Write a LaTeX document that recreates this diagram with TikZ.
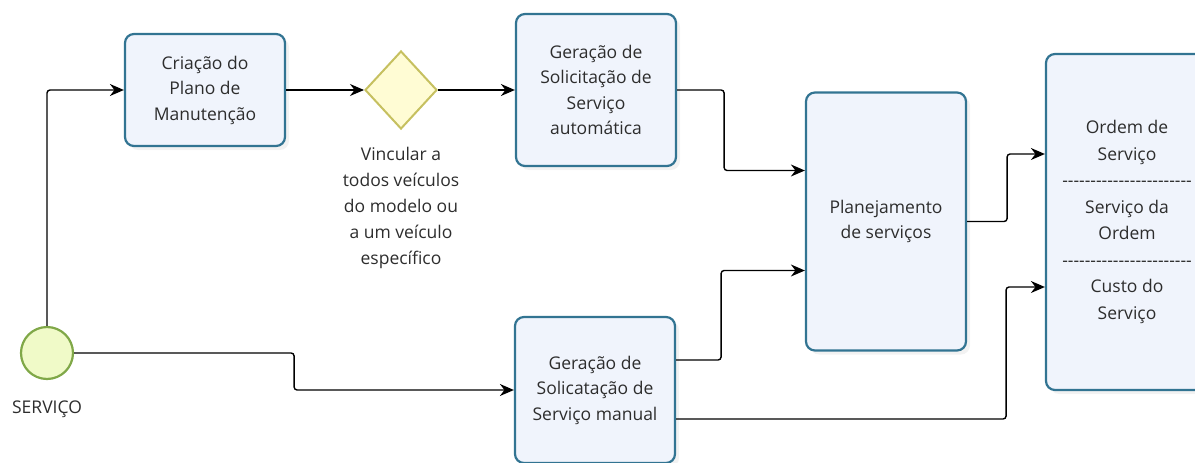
\documentclass[tikz,border=0pt]{standalone}
\usepackage{fontspec}
\setmainfont{Open Sans}
\usepackage{tikz}
\usetikzlibrary{positioning,shapes.geometric,shadows,arrows.meta,calc}
\definecolor{taskline}{RGB}{50,116,146}
\definecolor{taskfill}{RGB}{240,244,252}
\definecolor{startline}{RGB}{128,168,72}
\definecolor{startfill}{RGB}{240,250,200}
\definecolor{gateline}{RGB}{198,192,96}
\definecolor{gatefill}{RGB}{255,252,212}
\definecolor{txt}{RGB}{45,45,45}
\def\sepline{-{}-{}-{}-{}-{}-{}-{}-{}-{}-{}-{}-{}-{}-{}-{}-{}-{}-{}-{}-{}-{}-{}-}
\tikzset{
	task/.style={draw=taskline, line width=2.2pt, rounded corners=9pt, fill=taskfill,
		drop shadow={shadow xshift=4pt, shadow yshift=-4pt, opacity=0.10},
		align=center, inner sep=0pt, text=txt, font=\fontsize{17.5}{25.5}\selectfont},
	startev/.style={circle, draw=startline, line width=2.2pt, fill=startfill, minimum size=52pt, inner sep=0pt},
	gateway/.style={diamond, draw=gateline, line width=2pt, fill=gatefill, minimum width=72pt, minimum height=78pt, inner sep=0pt},
	lbl/.style={align=center, inner sep=0pt, text=txt, font=\fontsize{17.5}{26}\selectfont},
	flow/.style={line width=1.4pt, rounded corners=3pt, -{Stealth[length=14pt,width=12pt]}}
}

\begin{document}
\begin{tikzpicture}[x=1pt, y=-1pt]
			%%%%% START %%%%%
			\useasboundingbox (0,0) rectangle (1195,463);
			\clip (0,0) rectangle (1195,463);
			
			\node[startev] (start) at (47,353) {};
			\node[lbl, below=21pt of start] (startlbl) {SERVIÇO};
			
			\node[task, minimum width=160pt, minimum height=112pt] (plano) at (205,90) {Criação do\\Plano de\\Manutenção};
			\node[gateway] (gate) at (401,90) {};
			\node[lbl, below=17pt of gate] (gatelbl) {Vincular a\\todos veículos\\do modelo ou\\a um veículo\\específico};
			
			\node[task, minimum width=160pt, minimum height=152pt] (auto) at (596,90) {Geração de\\Solicitação de\\Serviço\\automática};
			\node[task, minimum width=160pt, minimum height=146pt] (manual) at (595,390) {Geração de\\Solicatação de\\Serviço manual};
			
			\node[task, minimum width=160pt, minimum height=258pt] (plan) at (886,221.5) {Planejamento\\de serviços};
			\node[task, minimum width=162pt, minimum height=336pt, font=\fontsize{17.5}{26.5}\selectfont] (ordem) at (1127,222)
				{Ordem de\\Serviço\\\sepline\\Serviço da\\Ordem\\\sepline\\Custo do\\Serviço};
			
			% connectors
			\draw[flow] (start.north) |- (plano.west);
			\draw[flow] (plano.east) -- (gate.west);
			\draw[flow] (gate.east) -- (auto.west);
			\draw[flow] (start.east) -- ++(220,0) |- (manual.west);
			
			\draw[flow] (auto.east) -- ++(47,0) |- ($(plan.west)+(0,-51)$);
			\draw[flow] ($(manual.east)+(0,-30)$) -- ++(45,0) |- ($(plan.west)+(0,49)$);
			
			\draw[flow] (plan.east) -- ++(40,0) |- ($(ordem.west)+(0,-68)$);
			\draw[flow] ($(manual.east)+(0,29)$) -- ++(330,0) |- ($(ordem.west)+(0,65)$);
			
			%%%%% END %%%%%
		\end{tikzpicture}
\end{document}
